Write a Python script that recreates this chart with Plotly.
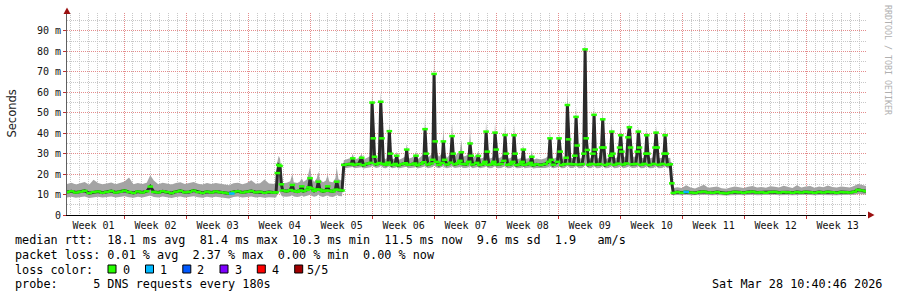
import plotly.graph_objects as go

# ---------------- data (days since start of graph, values in ms) ----------------
DAYS = [
    # weeks 01-04 baseline
    0.0, 0.5, 1.0, 1.5, 2.0, 2.5, 3.0, 3.5, 4.0, 4.5, 5.0, 5.5, 6.0, 6.5, 7.0, 7.5, 8.0, 8.5, 9.0, 9.4,
    9.8, 10.3, 10.8, 11.3, 11.8, 12.3, 12.8, 13.3, 13.8, 14.3, 14.8, 15.3, 15.8, 16.3, 16.8, 17.3, 17.8,
    18.3, 18.8, 19.3, 19.8, 20.3, 20.8, 21.3, 21.8, 22.3, 22.8, 23.3, 23.6,
    # week 04 spike and bumpy stretch
    23.75, 23.9, 24.05, 24.2, 24.35, 24.8, 25.2, 25.44, 25.6, 26.0, 26.3, 26.5, 26.7, 27.1, 27.3, 27.44,
    27.6, 27.9, 28.2, 28.37, 28.55, 28.9, 29.2, 29.43, 29.6, 30.0, 30.3, 30.45, 30.65, 31.05,
    # weeks 05-10 plateau with daily spikes
    31.25, 31.7, 32.1, 32.26, 32.45, 32.9, 33.27, 33.45, 33.9, 34.3, 34.44, 34.58, 34.72, 34.9, 35.25,
    35.42, 35.56, 35.72, 36.0, 36.25, 36.39, 36.52, 36.7, 37.05, 37.22, 37.4, 37.8, 38.2, 38.35, 38.5,
    38.9, 39.25, 39.4, 39.55, 39.95, 40.28, 40.42, 40.56, 40.75, 41.1, 41.3, 41.44, 41.57, 41.72, 42.0,
    42.35, 42.49, 42.62, 42.9, 43.3, 43.47, 43.6, 43.8, 44.15, 44.35, 44.52, 44.68, 45.05, 45.35, 45.5,
    45.63, 45.8, 46.25, 46.44, 46.6, 47.0, 47.18, 47.31, 47.45, 47.62, 48.0, 48.18, 48.32, 48.46, 48.62,
    49.0, 49.3, 49.45, 49.58, 49.75, 50.1, 50.33, 50.47, 50.6, 50.78, 51.2, 51.38, 51.52, 51.66, 52.1,
    52.32, 52.47, 52.62, 53.0, 53.5, 54.0, 54.38, 54.53, 54.67, 54.9, 55.38, 55.55, 55.68, 55.85, 56.2,
    56.35, 56.49, 56.62, 56.78, 57.15, 57.33, 57.47, 57.6, 57.78, 58.15, 58.34, 58.49, 58.62, 58.75, 58.9,
    59.2, 59.37, 59.5, 59.63, 59.8, 60.15, 60.35, 60.48, 60.62, 60.78, 61.15, 61.37, 61.5, 61.63, 61.8,
    62.2, 62.38, 62.51, 62.64, 62.8, 63.15, 63.33, 63.49, 63.62, 63.8, 64.2, 64.38, 64.5, 64.63, 64.8,
    65.15, 65.33, 65.45, 65.58, 65.75, 66.2, 66.38, 66.5, 66.63, 66.8, 67.2, 67.4, 67.52, 67.64, 67.8,
    68.1, 68.28, 68.45,
    # weeks 10-13 baseline
    68.9, 69.4, 69.9, 70.4, 70.9, 71.4, 71.9, 72.4, 72.9, 73.4, 73.9, 74.4, 74.9, 75.4, 75.9, 76.4, 76.9,
    77.4, 77.9, 78.4, 78.9, 79.4, 79.9, 80.4, 80.9, 81.4, 81.9, 82.4, 82.9, 83.4, 83.9, 84.4, 84.9, 85.4,
    85.9, 86.4, 86.9, 87.4, 87.9, 88.4, 88.9, 89.3, 89.7, 90.2,
]

MEDIAN_MS = [
    11.2, 11.6, 11.0, 11.4, 11.8, 10.7, 11.2, 11.5, 10.9, 11.3, 11.7, 11.0, 11.4, 11.9, 11.2, 10.8, 11.5, 11.0, 11.6, 13.9,
    11.3, 11.0, 11.6, 11.2, 10.7, 11.4, 11.8, 11.1, 11.3, 11.9, 11.2, 10.8, 11.4, 11.0, 11.5, 11.1, 10.9,
    10.5, 11.3, 11.6, 11.0, 11.4, 11.7, 11.1, 11.3, 10.9, 11.2, 11.0, 11.1,
    20.5, 24.5, 24.0, 15.0, 12.0, 11.6, 12.2, 14.7, 11.8, 11.4, 12.0, 14.0, 11.7, 12.3, 13.5, 18.0,
    13.0, 11.8, 12.5, 16.3, 12.4, 11.6, 12.0, 14.0, 11.9, 11.5, 12.4, 16.3, 12.3, 12.0,
    24.5, 24.8, 25.0, 27.7, 24.6, 24.9, 28.0, 24.4, 25.1, 25.5, 55.0, 37.5, 28.5, 24.8, 25.4,
    55.4, 37.5, 25.0, 24.6, 25.6, 41.0, 30.0, 24.5, 25.0, 29.0, 24.3, 24.9, 25.3, 32.0, 24.6,
    24.8, 25.2, 29.0, 24.4, 25.0, 25.8, 42.0, 30.0, 24.7, 25.2, 27.0, 69.0, 36.0, 26.0, 24.6,
    25.5, 36.0, 27.0, 24.7, 25.6, 38.6, 30.0, 24.8, 25.3, 26.5, 30.7, 25.0, 24.8, 26.0, 35.0,
    29.0, 24.7, 25.5, 28.9, 24.5, 24.9, 26.0, 40.8, 31.0, 24.6, 24.9, 26.0, 40.3, 32.0, 24.7,
    25.0, 26.5, 39.1, 30.0, 24.6, 24.9, 26.0, 39.0, 30.0, 24.5, 24.8, 26.0, 32.0, 24.6, 24.9,
    25.5, 28.5, 24.4, 24.8, 24.5, 24.9, 26.0, 37.5, 27.0, 24.6, 26.0, 37.5, 31.0, 24.5, 24.9,
    28.0, 53.8, 37.0, 25.0, 24.8, 29.0, 48.0, 34.0, 24.7, 24.9, 30.0, 81.0, 37.5, 31.8, 24.6,
    25.0, 30.0, 49.0, 32.0, 24.7, 24.9, 33.0, 46.8, 33.0, 24.5, 25.0, 29.0, 40.8, 30.0, 24.6,
    25.1, 33.0, 39.0, 31.0, 24.7, 25.2, 38.0, 42.9, 33.0, 24.8, 25.0, 31.0, 40.8, 33.0, 24.6,
    25.0, 30.0, 39.0, 30.0, 24.5, 25.0, 33.0, 40.3, 33.0, 24.6, 25.0, 30.0, 39.0, 30.0, 24.6,
    24.8, 15.5, 10.8,
    11.2, 10.9, 11.3, 11.0, 10.8, 11.2, 11.4, 11.0, 10.9, 11.2, 10.8, 10.6, 11.0, 11.3, 11.1, 10.9, 11.2,
    11.4, 11.0, 11.1, 10.9, 11.2, 11.3, 11.0, 11.2, 11.1, 10.9, 11.2, 11.0, 11.3, 11.1, 10.9, 11.2, 11.0,
    11.3, 11.1, 10.9, 11.2, 11.1, 11.0, 11.4, 12.3, 12.0, 11.6,
]

LOW_MS = [
    8.6, 8.9, 8.4, 8.8, 9.1, 8.3, 8.7, 8.9, 8.5, 8.8, 9.0, 8.5, 8.8, 9.2, 8.7, 8.4, 8.9, 8.6, 9.0, 9.5,
    8.8, 8.5, 9.0, 8.7, 8.3, 8.8, 9.1, 8.6, 8.8, 9.2, 8.7, 8.4, 8.9, 8.5, 8.9, 8.6, 8.4,
    8.1, 8.8, 9.0, 8.5, 8.9, 9.1, 8.6, 8.8, 8.4, 8.7, 8.5, 8.6,
    10.0, 11.5, 11.0, 9.5, 9.0, 8.9, 9.2, 9.8, 9.0, 8.8, 9.1, 9.6, 8.9, 9.3, 9.6, 10.2,
    9.4, 8.9, 9.3, 10.0, 9.3, 8.8, 9.1, 9.7, 9.0, 8.8, 9.3, 10.0, 9.3, 9.2,
    22.8, 23.0, 23.2, 23.5, 22.9, 23.0, 23.4, 22.8, 23.2, 23.4, 24.0, 23.6, 23.2, 23.0, 23.3,
    24.0, 23.6, 23.0, 22.9, 23.3, 23.8, 23.4, 22.9, 23.1, 23.5, 22.8, 23.0, 23.2, 23.6, 22.9,
    23.0, 23.2, 23.5, 22.8, 23.1, 23.4, 23.9, 23.4, 22.9, 23.2, 23.5, 24.2, 23.8, 23.2, 22.9,
    23.3, 23.8, 23.2, 22.9, 23.3, 23.9, 23.4, 23.0, 23.2, 23.4, 23.6, 23.0, 23.0, 23.4, 23.8,
    23.3, 22.9, 23.3, 23.5, 22.9, 23.0, 23.3, 23.8, 23.4, 22.9, 23.0, 23.3, 23.8, 23.4, 22.9,
    23.0, 23.3, 23.8, 23.3, 22.9, 23.0, 23.3, 23.8, 23.3, 22.9, 23.0, 23.3, 23.6, 22.9, 23.0,
    23.2, 23.5, 22.8, 23.0, 22.9, 23.0, 23.3, 23.8, 23.2, 22.9, 23.3, 23.7, 23.4, 22.9, 23.0,
    23.5, 24.0, 23.6, 23.0, 23.0, 23.4, 23.9, 23.5, 22.9, 23.0, 23.5, 24.5, 23.8, 23.4, 22.9,
    23.0, 23.5, 23.9, 23.4, 22.9, 23.0, 23.5, 23.9, 23.4, 22.9, 23.0, 23.4, 23.8, 23.4, 22.9,
    23.1, 23.4, 23.8, 23.4, 22.9, 23.2, 23.6, 23.9, 23.4, 23.0, 23.1, 23.4, 23.8, 23.4, 22.9,
    23.0, 23.4, 23.8, 23.4, 22.9, 23.0, 23.4, 23.8, 23.4, 22.9, 23.0, 23.4, 23.8, 23.4, 22.9,
    23.0, 12.0, 9.6,
    9.8, 9.6, 9.9, 9.7, 9.6, 9.8, 9.9, 9.7, 9.6, 9.8, 9.6, 9.5, 9.7, 9.9, 9.8, 9.6, 9.8,
    9.9, 9.7, 9.8, 9.6, 9.8, 9.9, 9.7, 9.8, 9.8, 9.6, 9.8, 9.7, 9.9, 9.8, 9.6, 9.8, 9.7,
    9.9, 9.8, 9.6, 9.8, 9.8, 9.7, 9.9, 10.3, 10.2, 10.0,
]

HIGH_MS = [
    15.2, 15.8, 14.9, 15.5, 16.2, 14.8, 17.2, 15.6, 15.0, 15.4, 15.9, 15.1, 15.6, 16.4, 18.3, 15.0, 15.7, 15.2, 15.8, 19.5,
    16.9, 15.1, 15.8, 15.4, 14.9, 15.6, 16.0, 15.2, 15.5, 16.1, 15.3, 14.9, 15.6, 15.2, 15.7, 15.3, 15.0,
    14.6, 15.5, 15.8, 15.1, 15.6, 17.0, 15.3, 15.5, 17.4, 15.4, 15.1, 15.2,
    26.0, 29.0, 27.5, 20.0, 15.5, 15.8, 16.5, 20.0, 16.0, 15.6, 16.4, 18.0, 16.2, 17.5, 21.0, 23.6,
    18.5, 16.2, 18.0, 21.2, 17.5, 16.0, 16.8, 19.6, 16.4, 16.0, 18.0, 23.3, 17.5, 16.8,
    26.8, 27.5, 28.0, 30.0, 27.2, 27.8, 30.0, 27.0, 28.2, 29.0, 60.3, 42.0, 31.5, 27.5, 28.5,
    60.3, 42.0, 28.0, 27.3, 29.0, 45.6, 33.0, 27.2, 27.8, 31.0, 26.9, 27.6, 28.6, 35.0, 27.5,
    28.0, 29.0, 31.0, 27.2, 28.5, 30.0, 48.0, 33.5, 28.0, 29.5, 31.0, 77.8, 40.0, 30.5, 28.5,
    30.5, 42.4, 30.5, 28.0, 30.0, 44.9, 33.0, 29.0, 30.5, 31.0, 36.7, 28.5, 29.0, 30.0, 41.6,
    32.0, 28.0, 29.5, 31.0, 27.5, 28.0, 29.0, 45.6, 34.0, 27.5, 28.0, 29.5, 44.9, 35.0, 27.6,
    28.2, 30.0, 44.0, 33.0, 27.5, 28.0, 29.0, 44.0, 33.0, 27.3, 27.8, 28.5, 34.2, 27.4, 27.8,
    28.5, 31.8, 27.0, 27.6, 27.2, 27.8, 29.0, 41.6, 29.5, 27.4, 28.5, 40.0, 33.0, 27.3, 27.8,
    31.0, 60.3, 40.0, 28.0, 27.8, 31.0, 53.0, 37.0, 27.6, 27.8, 33.0, 89.2, 42.0, 34.0, 27.4,
    28.0, 32.0, 53.3, 35.0, 27.5, 28.0, 36.0, 51.7, 36.0, 27.3, 28.0, 31.5, 44.9, 33.0, 27.5,
    28.5, 36.0, 43.5, 34.0, 28.0, 29.0, 43.0, 44.5, 36.5, 28.5, 28.5, 33.5, 43.2, 35.5, 27.8,
    28.0, 32.0, 42.4, 33.0, 27.6, 28.2, 35.5, 43.5, 35.5, 27.8, 28.0, 32.0, 43.2, 33.0, 27.8,
    28.0, 20.0, 13.2,
    13.6, 13.2, 14.6, 13.4, 13.0, 13.8, 14.8, 13.3, 13.5, 13.9, 13.1, 12.8, 13.5, 14.0, 13.6, 13.2, 13.8,
    14.2, 13.4, 13.7, 13.3, 14.1, 13.8, 13.4, 14.3, 13.6, 13.2, 14.5, 13.5, 13.9, 14.2, 13.3, 14.0, 13.6,
    14.4, 13.7, 13.4, 14.0, 13.8, 13.5, 14.3, 15.2, 14.8, 14.2,
]

# samples where 1 of 5 pings was lost
LOSS_DAYS = [18.6, 69.9]
LOSS_MS = [10.5, 11.3]

WEEK_LABELS = ["Week %02d" % i for i in range(1, 14)]
Y_TICKS = [0, 10, 20, 30, 40, 50, 60, 70, 80, 90]
Y_TICK_TEXT = ["0"] + ["%d m" % v for v in Y_TICKS[1:]]

LOSS_LEGEND = ["0", "1", "2", "3", "4", "5/5"]
LOSS_COLORS = ["#26ff00", "#00b8ff", "#0059ff", "#7e00ff", "#ff0000", "#a10000"]

LINE1 = "median rtt:  18.1 ms avg  81.4 ms max  10.3 ms min  11.5 ms now  9.6 ms sd  1.9   am/s"
LINE2 = "packet loss: 0.01 % avg  2.37 % max  0.00 % min  0.00 % now"
LINE3 = "loss color:"
LINE4 = "probe:     5 DNS requests every 180s"
STAMP = "Sat Mar 28 10:40:46 2026"

assert len(DAYS) == len(MEDIAN_MS) == len(LOW_MS) == len(HIGH_MS), (
    len(DAYS), len(MEDIAN_MS), len(LOW_MS), len(HIGH_MS))

# ---------------- geometry ----------------
W, H = 897, 297
L, R, T, B = 67, 31, 13, 82
PW, PH = W - L - R, H - T - B
X_END = 90.2
Y_TOP = 98.8
FIRST_WEEK_START = 6.45
week_starts = [FIRST_WEEK_START + 7 * k for k in range(12)]
week_centers = [FIRST_WEEK_START - 3.45 + 7 * k for k in range(13)]


def fx(px):
    return (px - L) / PW


def fy(py):
    return (H - B - py) / PH


def nb(s):
    return s.replace(" ", "\u00a0")


MONO = "DejaVu Sans Mono"
GRID_MAJOR = "#e48c8c"
GRID_MINOR = "#c8c8c8"

fig = go.Figure()
fig.add_trace(go.Scatter(x=DAYS, y=LOW_MS, mode="lines", line=dict(width=0),
                         hoverinfo="skip", showlegend=False))
fig.add_trace(go.Scatter(x=DAYS, y=HIGH_MS, mode="lines", line=dict(width=0),
                         fill="tonexty", fillcolor="#a4a4a4", hoverinfo="skip", showlegend=False))
fig.add_trace(go.Scatter(x=DAYS, y=MEDIAN_MS, mode="lines", line=dict(width=3, color="#2a2a2a"),
                         hoverinfo="skip", showlegend=False))
fig.add_trace(go.Scatter(x=DAYS, y=MEDIAN_MS, mode="markers",
                         marker=dict(symbol="line-ew", size=4, line=dict(width=2.5, color=LOSS_COLORS[0])),
                         hoverinfo="skip", showlegend=False))
fig.add_trace(go.Scatter(x=LOSS_DAYS, y=LOSS_MS, mode="markers",
                         marker=dict(symbol="line-ew", size=4, line=dict(width=2.5, color=LOSS_COLORS[1])),
                         hoverinfo="skip", showlegend=False))
fig.add_trace(go.Scatter(x=[], y=[], xaxis="x2", showlegend=False))

shapes = []
# axis arrows
shapes.append(dict(type="path", xref="paper", yref="paper",
                   path=f"M {fx(63.5)},{fy(14)} L {fx(67)},{fy(7.5)} L {fx(70.5)},{fy(14)} Z",
                   fillcolor="#9b1010", line=dict(width=0)))
shapes.append(dict(type="path", xref="paper", yref="paper",
                   path=f"M {fx(868)},{fy(211.5)} L {fx(874.5)},{fy(215)} L {fx(868)},{fy(218.5)} Z",
                   fillcolor="#9b1010", line=dict(width=0)))
# loss colour boxes
box_lefts = [108, 145.5, 182.8, 220, 257.3, 294.7]
label_lefts = [121.5, 159, 196.3, 233.6, 270.8, 306]
for bx, c in zip(box_lefts, LOSS_COLORS):
    shapes.append(dict(type="rect", xref="paper", yref="paper",
                       x0=fx(bx), x1=fx(bx + 8), y0=fy(273), y1=fy(265),
                       fillcolor=c, line=dict(width=1, color="#000000")))

annotations = []


def text(s, px, py, size=11.8, anchor="left", color="#000000", family=MONO, angle=0):
    annotations.append(dict(text=nb(s), x=fx(px), y=fy(py), xref="paper", yref="paper",
                            xanchor=anchor, yanchor="middle", showarrow=False, textangle=angle,
                            font=dict(family=family, size=size, color=color), borderpad=0))


text(LINE1, 14, 240.5)
text(LINE2, 14, 255)
text(LINE3, 14, 269.5)
for lx, lab in zip(label_lefts, LOSS_LEGEND):
    text(lab, lx, 269.5)
text(LINE4, 14, 284)
text(STAMP, 883, 284, anchor="right")
text("Seconds", 11, 113.5, size=11.5, anchor="center", color="#222222",
     family="DejaVu Sans", angle=-90)
text("RRDTOOL / TOBI OETIKER", 888, 60, size=8.3, anchor="center", color="#b0b0b0", angle=90)

fig.update_layout(
    width=W, height=H, autosize=False,
    margin=dict(l=L, r=R, t=T, b=B, pad=0),
    paper_bgcolor="white", plot_bgcolor="white",
    showlegend=False, hovermode=False,
    shapes=shapes, annotations=annotations,
    xaxis=dict(range=[0, X_END], tickmode="array", tickvals=week_starts, showticklabels=False,
               ticks="outside", ticklen=3, tickcolor="#c03030", tickwidth=1,
               showgrid=True, gridcolor=GRID_MAJOR, gridwidth=1, griddash="1px,1px",
               minor=dict(tickmode="linear", tick0=FIRST_WEEK_START, dtick=1, showgrid=True,
                          gridcolor=GRID_MINOR, gridwidth=1, griddash="1px,1px", ticks=""),
               showline=True, linecolor="#000000", linewidth=1, zeroline=False, fixedrange=True),
    xaxis2=dict(range=[0, X_END], overlaying="x", anchor="y", side="bottom",
                tickmode="array", tickvals=week_centers, ticktext=WEEK_LABELS,
                ticks="", showgrid=False, showline=False, zeroline=False,
                tickfont=dict(family=MONO, size=10, color="#111111"), ticklabelstandoff=3,
                fixedrange=True),
    yaxis=dict(range=[0, Y_TOP], tickmode="array", tickvals=Y_TICKS, ticktext=Y_TICK_TEXT,
               ticks="outside", ticklen=3, tickcolor="#c03030",
               tickfont=dict(family=MONO, size=10, color="#111111"),
               showgrid=True, gridcolor=GRID_MAJOR, gridwidth=1, griddash="1px,1px",
               minor=dict(tickmode="linear", tick0=0, dtick=5, showgrid=True,
                          gridcolor=GRID_MINOR, gridwidth=1, griddash="1px,1px", ticks=""),
               showline=True, linecolor="#606060", linewidth=1, zeroline=False, fixedrange=True),
)

fig.write_html("out.html", config={"displayModeBar": False, "staticPlot": True})
